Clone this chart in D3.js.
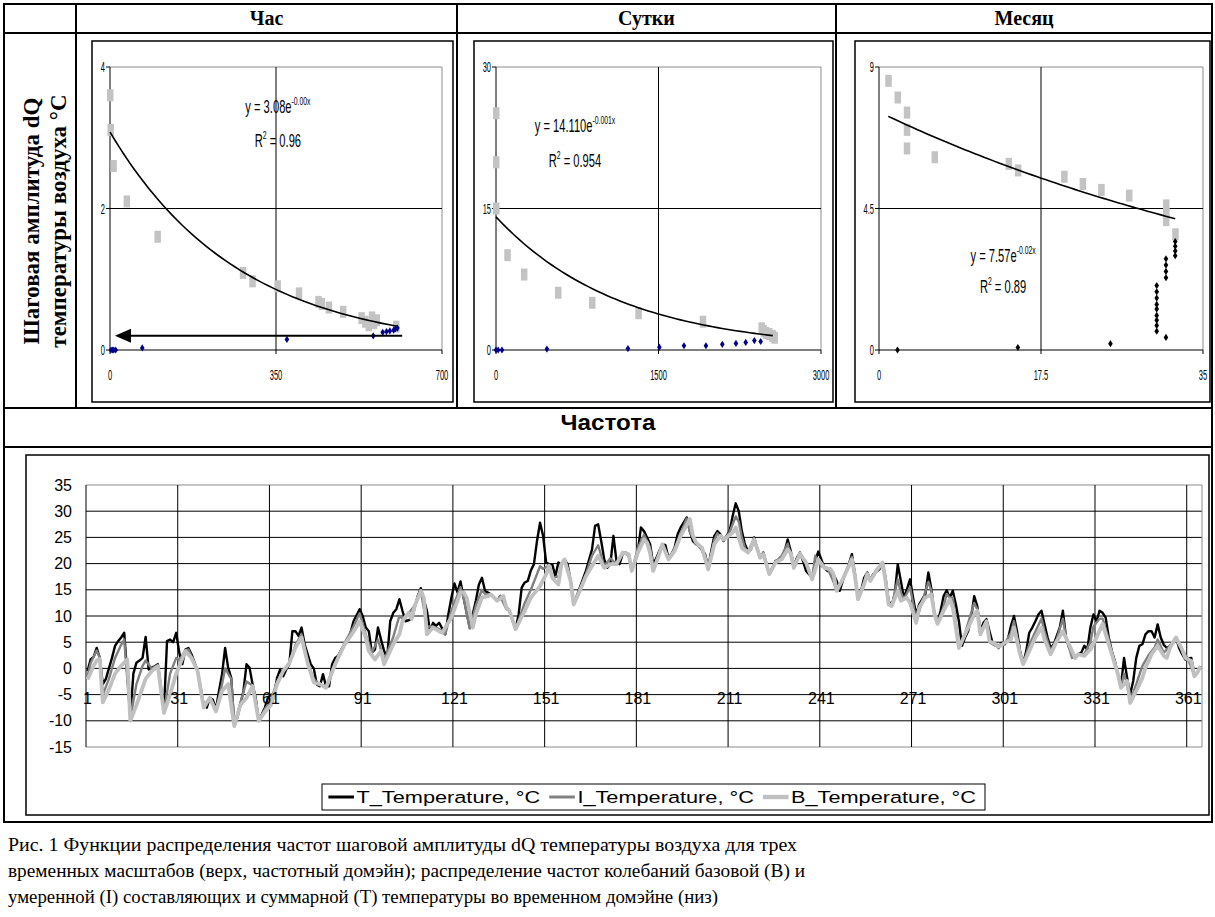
<!DOCTYPE html>
<html>
<head>
<meta charset="utf-8">
<script src="https://cdn.jsdelivr.net/npm/d3@7"></script>
<style>
  body { margin: 0; background: #fff; }
  svg { display: block; }
</style>
</head>
<body>
<svg id="chart"></svg>
<script>
const W = 1215, H = 917;

// ---- top row: frequency domain, three time scales ----
const columnTitles = ['Час', 'Сутки', 'Месяц'];
const yLabelLines  = ['Шаговая амплитуда  dQ', 'температуры воздуха °С'];

const hourGrayX = [0, 1, 7, 35, 100, 280, 300, 353, 398, 439, 446, 461, 491, 530, 538, 545, 552, 556, 562, 603];
const hourGrayY = [3.6, 3.11, 2.6, 2.1, 1.6, 1.09, 0.97, 0.9, 0.8, 0.68, 0.65, 0.6, 0.54, 0.45, 0.4, 0.35, 0.46, 0.38, 0.42, 0.33];
const hourDotX  = [2, 5, 8, 12, 68, 373, 555, 575, 583, 590, 598, 602, 606];
const hourDotY  = [0, 0, 0, 0, 0.03, 0.15, 0.2, 0.25, 0.26, 0.27, 0.28, 0.3, 0.31];

const dayGrayX = [0, 0, 0, 104, 258, 572, 886, 1314, 1908, 2450, 2470, 2490, 2520, 2550, 2570];
const dayGrayY = [25.1, 19.9, 15, 10.05, 8.0, 6.07, 5.0, 3.9, 3.0, 2.3, 2.0, 1.8, 1.7, 1.5, 1.3];
const dayDotX  = [0, 20, 55, 470, 1218, 1508, 1735, 1938, 2089, 2215, 2305, 2385, 2443];
const dayDotY  = [0, 0, 0, 0.1, 0.15, 0.3, 0.45, 0.45, 0.6, 0.7, 0.8, 1.0, 0.9];

const monthGrayX = [1, 2, 3, 3, 3, 6, 14, 15, 20, 22, 24, 27, 31, 31, 31, 32];
const monthGrayY = [8.56, 8.03, 7.55, 7.0, 6.41, 6.13, 5.92, 5.71, 5.51, 5.28, 5.09, 4.91, 4.6, 4.35, 4.13, 3.68];
const monthDotX  = [2, 15, 25, 30, 30, 30, 30, 30, 30, 30, 30, 30, 31, 31, 31, 31, 31, 32, 32, 32, 32];
const monthDotY  = [0, 0.08, 0.2, 2.05, 1.85, 1.65, 1.45, 1.3, 1.1, 0.95, 0.78, 0.6, 2.9, 2.7, 2.5, 2.3, 0.4, 3.45, 3.3, 3.15, 3.0];

// exponential trend lines y = a*exp(-b*x)
const hourFit  = { a: 3.08,  b: 0.00366,  from: 0, to: 607,  eq: ['y = 3.08e', '-0.00x'],    r2: '0.96' };
const dayFit   = { a: 14.11, b: 0.000872, from: 0, to: 2555, eq: ['y = 14.110e', '-0.001x'], r2: '0.954' };
const monthFit = { a: 7.57,  b: 0.0186,   from: 1, to: 32,   eq: ['y = 7.57e', '-0.02x'],    r2: '0.89' };

// ---- bottom row: time domain, [day, °C] ----
const tempT = [[1,-0.5],[2,1.7],[3,2.2],[4,3.9],[5,2],[6,-3],[7,-2],[8,0],[9,2],[10,4.3],[11,5.2],[12,5.9],[13,6.8],[15,-9],[16,-1],[17,1.1],[18,1.5],[19,2],[20,6],[21,-0.2],[22,0.2],[23,0.4],[24,0.8],[26,-8],[27,5.2],[28,5.5],[29,5],[30,6.8],[31,3],[32,0.8],[33,3.6],[34,3.9],[35,2.7],[37,-0.5],[39,-7],[40,-7.5],[41,-5.6],[42,-6],[43,-7.8],[44,-4.3],[45,-1.1],[46,3.9],[47,0.1],[48,-1.8],[49,-11],[50,-9.4],[52,-4.3],[53,0.8],[54,0.1],[55,-3.1],[56,-5.6],[57,-10],[59,-7.5],[60,-5.6],[61,-5],[62,-5],[63,-1.8],[64,-0.2],[65,-1.5],[66,-0.2],[67,0.8],[68,7.1],[69,7.1],[70,6.2],[71,7.8],[72,4.6],[74,0.8],[75,0],[76,-3.1],[77,-3.4],[78,-1.1],[79,-3.4],[80,-3.4],[81,0.8],[82,2],[83,2.4],[84,3.6],[86,5.2],[87,6.8],[88,9],[90,11.3],[91,10],[92,7.8],
  [93,7.1],[94,3],[95,3.6],[96,7.8],[97,5.5],[98,3.3],[99,2],[100,9],[101,10.6],[102,11.3],[103,13.2],[104,11],[105,9],[107,9.4],[108,11.6],[109,13.8],[110,15.3],[112,11],[113,7.1],[114,8.7],[115,8.1],[116,8.7],[118,6.5],[119,10.3],[120,13.5],[121,16.2],[122,14.5],[123,16.6],[124,13.5],[126,7.8],[128,12.9],[129,16],[130,17.3],[131,14.8],[133,14.1],[135,12.9],[136,13.8],[138,11.6],[139,11],[141,7.5],[142,10.3],[143,15.4],[144,16.4],[145,16.7],[146,18.7],[147,19.9],[148,24.3],[149,27.8],[150,25.3],[151,20.2],[152,19.9],[153,19.9],[154,17.6],[155,20.2],[156,19.9],[157,20.8],[158,19.9],[159,16.7],[160,12.5],[161,13.8],[162,15.4],[164,18.6],[166,22.7],[167,27.2],[168,27.5],[169,24.3],[170,20.8],[171,19.2],[172,19.9],[173,25.3],[174,20.5],[175,19.9],[176,21.8],[177,22.1],[178,21.5],[179,18.6],[181,22.4],[182,26.9],[183,26.2],[184,25],
  [185,23.7],[186,19.9],[187,21],[188,22.4],[189,23.7],[190,23.5],[191,21.1],[192,21.8],[193,23],[194,25.6],[195,26.9],[197,28.8],[198,26.2],[199,24.3],[200,23.7],[201,23.5],[203,21.8],[204,19.2],[205,22.4],[206,25.3],[207,26.2],[208,25.6],[209,24.3],[210,25.3],[211,26.2],[212,29.1],[213,31.5],[214,30],[215,26.2],[216,23.7],[217,22.4],[218,22.7],[219,25],[220,23],[221,21.1],[222,22.1],[224,18],[225,19.2],[226,20.5],[228,20.8],[229,22.4],[230,24.6],[231,22.4],[232,19.6],[233,21.1],[234,22.1],[235,20.5],[236,18.6],[238,17.3],[239,20.5],[240,22.3],[241,20.8],[242,19.2],[243,18.6],[244,19],[246,16.7],[247,14.8],[248,16.7],[249,18.3],[250,19.9],[251,21.8],[252,18],[253,13.2],[254,14.8],[255,17.3],[256,18.3],[257,17],[258,18],[260,18.9],[261,20.2],[262,17.3],[263,12.9],[264,11.9],[265,14.1],[266,19.9],[267,16.7],[268,13.5],[269,15.1],[270,17],[271,13.5],[272,10.3],[273,12.2],[274,13.2],[275,14.1],[276,18.3],
  [277,15.1],[278,10.3],[279,8.7],[280,11],[281,13.8],[282,14.9],[283,13.5],[284,14.8],[285,12.2],[286,9],[287,4.3],[288,5.9],[289,7.1],[290,9.7],[291,13.8],[292,11.9],[293,7.1],[294,8.7],[295,9.4],[296,7.1],[297,4.9],[298,4.6],[299,3.9],[300,4.9],[301,4.6],[302,5.5],[303,8.1],[304,10],[305,7.1],[306,3.3],[307,0.8],[308,3.3],[309,6.8],[310,7.8],[311,9],[312,10.3],[313,11],[314,8.4],[315,5.9],[316,3.9],[317,4.6],[318,6.2],[319,7.8],[320,11],[321,6],[322,4],[323,3],[324,2],[325,2.7],[326,3],[327,4.3],[328,3.6],[329,7.8],[330,10.3],[331,9],[332,11],[333,10.6],[334,9.7],[335,5.9],[336,3.3],[337,1.4],[338,-1.1],[339,-3.4],[340,2],[341,-1.8],[342,-5],[343,-2.4],[344,2],[345,4.3],[346,4.6],[347,6.5],[348,7.1],[349,7.1],[350,5.9],[351,8.4],[352,5.9],[353,4.5],[354,3.9],[355,4.3],[356,4.9],[357,5.9],[358,3.9],[359,2.7],[360,1.7],[362,2],[363,-1.1],[364,-0.8],[365,0.4]];

const tempI = [[1,-1.5],[2,1],[4,3.4],[5,2],[6,-5],[8,-2],[10,2],[12,4.5],[13,5.5],[15,-9.5],[17,-3],[19,0.5],[20,1.5],[22,0],[24,0.6],[26,-8.2],[28,-1],[30,2],[31,1.5],[33,3.5],[34,3.6],[36,1],[37,-0.5],[39,-7.2],[41,-5.6],[43,-8],[45,-3],[46,0],[48,-2],[49,-10.8],[51,-6.5],[53,-2.5],[55,-3.3],[57,-10],[59,-7.8],[61,-6],[63,-2.5],[65,-0.5],[67,0.8],[69,4.5],[71,6.5],[73,1],[75,-2],[77,-3.2],[79,-3.5],[82,1],[85,4.8],[88,8],[90,10.5],[92,6.5],
  [94,3],[96,5.5],[98,1.5],[101,6],[103,10],[104,9.5],[106,10.5],[108,12],[110,14.8],[112,8],[114,8],[116,7.5],[118,6.5],[120,11],[122,14],[123,15.5],[124,13.5],[126,7.6],[128,12],[130,15],[131,14.2],[133,14.1],[135,12.9],[136,13.8],[138,11.3],[139,11],[141,7.5],[144,12.5],[146,15],[148,18],[149,19.5],[150,19],[152,19.7],[153,17.4],[155,17.5],[156,19.9],[157,20.8],[159,16.7],[160,12.3],[162,15],[164,18],[166,21.5],[168,23.5],[170,19.5],[172,21],[174,19.9],[176,22.1],[178,21.6],[179,18.6],[181,23],[183,25.5],
  [185,23],[186,19],[188,22],[189,23.7],[191,21],[193,22.8],[195,25.8],[197,28.6],[198,26],[200,24],[202,22.5],[204,19],[206,24.5],[207,25.8],[209,24.4],[211,26],[213,29],[214,28],[215,25],[216,23],[217,22.2],[219,24.8],[221,21.1],[222,22],[224,18],[226,20.3],[228,21.5],[230,23.8],[232,19.4],[234,21.8],[236,20],[238,17.1],[239,21.5],[241,19.5],[243,19.2],[245,16.5],[246,14.8],[248,17],[251,21.3],[252,17.8],[253,13.2],[255,16.5],[256,18.2],[257,16.9],[259,18.8],[261,20.2],[262,16.9],[263,12.5],[264,11.9],[266,17],[267,14.5],[268,13.2],[270,15.5],[271,12.5],[272,9],[274,12.8],[276,16.5],
  [277,14.8],[278,10.3],[279,8.6],[281,11.8],[282,14.2],[283,13.5],[284,13.5],[286,4.1],[288,6.7],[291,12.5],[292,11.3],[293,6.8],[295,9],[296,5],[298,4.3],[300,4.6],[301,4.8],[303,6.8],[304,9],[306,3],[307,0.8],[309,4.5],[311,7],[313,9.5],[314,7],[316,3.3],[318,5.6],[320,9.5],[321,6],[323,2],[325,2.7],[327,2.7],[329,5],[330,8],[332,9.5],[333,9.5],[335,5.5],[336,3],[338,-1.1],[339,-3.6],[340,-1],[341,-3],[342,-6.2],[344,-3],[346,0.5],[348,2.5],[350,4],[351,5.5],[353,3],[355,4.3],[357,5.9],[359,3.6],[361,1.7],[363,-1.3],[364,-0.8],[365,0.4]];

const tempB = [[1,-2.1],[3,0.5],[4,1.5],[5,1.8],[6,-6.5],[8,-4],[10,-1],[12,0.5],[14,1.7],[15,-10],[17,-7],[20,-2],[22,-0.5],[24,0.4],[26,-8.5],[28,-5],[30,-1],[33,3.3],[35,2],[37,-0.5],[39,-7.5],[41,-5.6],[43,-8.2],[45,-4.3],[47,-3],[49,-11],[51,-7],[53,-5.6],[55,-3.4],[57,-10],[59,-8.3],[61,-7],[63,-3],[65,-0.5],[67,1],[69,4],[71,5.9],[73,1],[75,-2.7],[77,-3],[79,-3.7],[82,0.8],[85,4.5],[88,7],[90,9],[92,5.9],
  [93,3.3],[95,1.7],[97,3.3],[98,0.8],[101,4.6],[103,6.5],[104,9],[106,10.6],[107,9.4],[108,11.9],[110,14.8],[111,13.5],[112,6.5],[114,7.8],[116,7.1],[117,6.8],[120,9.7],[122,12.9],[123,14.5],[124,14.5],[125,13.5],[127,7.8],[128,10.3],[130,13.5],[132,13.8],[133,14.1],[135,12.9],[136,13.3],[137,13.8],[138,11.6],[139,11],[141,7.5],[144,11],[146,13.5],[149,15.7],[151,18],[152,19.6],[153,17.3],[155,16],[156,19.9],[157,20.8],[159,16.7],[160,12.2],[162,14.8],[164,17.6],[167,20.5],[168,21.5],[170,19.2],[172,19.9],[174,19.9],[176,22.1],[178,21.8],[179,18.6],[181,22.1],[183,24.6],
  [184,24],[185,22],[186,18.6],[188,21.8],[189,23.7],[191,20.8],[193,22.4],[195,25.3],[198,28.5],[199,25.3],[200,24],[202,23],[204,18.9],[206,23.7],[208,25.3],[209,24.6],[212,25.9],[213,26.9],[214,25],[215,23],[217,22.1],[218,23],[219,24.6],[221,21.1],[222,21.8],[224,18],[226,20.2],[228,20.8],[230,22.7],[231,22],[232,19.2],[234,21.9],[236,20.2],[238,17],[240,20.8],[242,19.2],[244,18.9],[245,18],[246,14.8],[248,17],[251,20.8],[252,17.6],[253,13.2],[255,16],[256,18],[257,16.7],[259,18.6],[261,20.2],[262,16.7],[263,12.2],[264,11.9],[266,14.8],[267,12.9],[269,13.5],[270,12.5],[272,8.7],[273,11.6],[275,13.5],[277,14.1],
  [278,10.3],[279,8.5],[281,11],[283,13.2],[284,11.6],[286,3.9],[288,6.5],[291,10.3],[292,11],[293,6.5],[295,9],[296,5.2],[298,4.6],[299,4.1],[301,4.9],[303,5.5],[304,7.8],[306,2.7],[307,0.8],[309,3.3],[311,5.9],[313,7.8],[314,5.5],[316,2.7],[318,5.2],[320,7.1],[322,4.6],[324,2],[325,2.7],[327,2.4],[329,3.6],[331,5.9],[333,8.5],[334,6.5],[336,2.7],[338,-1.1],[339,-3.7],[341,-2.4],[342,-6.6],[344,-4.3],[346,-1.8],[347,0.1],[349,2.7],[351,4.3],[353,2.4],[354,2],[355,3.9],[357,5.9],[359,3.6],[360,2],[362,1.4],[363,-1.5],[364,-0.8],[365,0.4]];

const dayCount   = 365;
const dayLabels  = [1, 31, 61, 91, 121, 151, 181, 211, 241, 271, 301, 331, 361];
const tempTicks  = [-15, -10, -5, 0, 5, 10, 15, 20, 25, 30, 35];
const seriesNames = ['T_Temperature, °C', 'I_Temperature, °C', 'B_Temperature, °C'];
const sectionTitle = 'Частота';
const captionLines = [
  'Рис. 1 Функции распределения частот шаговой амплитуды dQ температуры воздуха для трех',
  'временных масштабов (верх, частотный домэйн); распределение частот колебаний базовой (B) и',
  'умеренной (I) составляющих и суммарной (T) температуры во временном домэйне (низ)'
];
const captionWidths = [789, 797, 710];

const SERIF = "'Liberation Serif', 'Times New Roman', serif";
const SANS  = "'Liberation Sans', Arial, sans-serif";

const svg = d3.select('#chart').attr('width', W).attr('height', H);
svg.append('rect').attr('width', W).attr('height', H).attr('fill', '#fff');

// ---- table grid ----
const table = svg.append('g').attr('stroke', '#000').attr('stroke-width', 2);
const tableCols = [4, 76, 457, 836, 1212];
[4, 33, 408, 447, 822].forEach(y =>
  table.append('line').attr('x1', 3).attr('x2', 1213).attr('y1', y).attr('y2', y));
tableCols.forEach((x, i) => {
  const full = i === 0 || i === tableCols.length - 1;
  table.append('line').attr('x1', x).attr('x2', x).attr('y1', 4).attr('y2', full ? 822 : 408);
});

columnTitles.forEach((t, i) => {
  svg.append('text')
    .attr('x', (tableCols[i + 1] + tableCols[i + 2]) / 2).attr('y', 25)
    .attr('text-anchor', 'middle')
    .style('font', `bold 20px ${SERIF}`)
    .text(t);
});

const yLab = svg.append('g').attr('transform', 'translate(0,221) rotate(-90)');
yLabelLines.forEach((t, i) => {
  yLab.append('text')
    .attr('x', 0).attr('y', 39 + i * 27)
    .attr('text-anchor', 'middle')
    .style('font', `bold 23px ${SERIF}`)
    .text(t);
});

// ---- scatter panels ----
const panels = [
  { frame: [92, 41, 453, 402],  plot: [110, 67, 442, 350], xMax: 700,  yMax: 4,
    xTicks: [0, 350, 700],  yTicks: [0, 2, 4],    grayX: hourGrayX,  grayY: hourGrayY,
    dotX: hourDotX,  dotY: hourDotY,  dotColor: '#00008b', fit: hourFit,
    eqAt: [354, 3.35], r2At: [354, 2.87], arrow: [616, 10.5, 0.2] },
  { frame: [474, 41, 833, 402], plot: [496, 67, 821, 350], xMax: 3000, yMax: 30,
    xTicks: [0, 1500, 3000], yTicks: [0, 15, 30], grayX: dayGrayX,   grayY: dayGrayY,
    dotX: dayDotX,   dotY: dayDotY,   dotColor: '#00008b', fit: dayFit,
    eqAt: [729, 23.1], r2At: [729, 19.4] },
  { frame: [855, 41, 1210, 402], plot: [879, 67, 1203, 350], xMax: 35, yMax: 9,
    xTicks: [0, 17.5, 35], yTicks: [0, 4.5, 9], grayX: monthGrayX, grayY: monthGrayY,
    dotX: monthDotX, dotY: monthDotY, dotColor: '#000', fit: monthFit,
    eqAt: [13.4, 2.8], r2At: [13.4, 1.81] }
];

const diamond = 'M0,-3.6L2.3,0L0,3.6L-2.3,0Z';

panels.forEach(p => {
  const [l, t, r, b] = p.plot;
  const x = d3.scaleLinear().domain([0, p.xMax]).range([l, r]);
  const y = d3.scaleLinear().domain([0, p.yMax]).range([b, t]);
  const g = svg.append('g');

  g.append('rect')
    .attr('x', p.frame[0]).attr('y', p.frame[1])
    .attr('width', p.frame[2] - p.frame[0]).attr('height', p.frame[3] - p.frame[1])
    .attr('fill', '#fff').attr('stroke', '#000').attr('stroke-width', 1.5);

  // plot border and grid
  g.append('path').attr('d', `M${l},${t}H${r}V${b}`).attr('fill', 'none').attr('stroke', '#8c8c8c');
  g.append('line').attr('x1', x(p.xTicks[1])).attr('x2', x(p.xTicks[1])).attr('y1', t).attr('y2', b).attr('stroke', '#000');
  g.append('line').attr('x1', l).attr('x2', r).attr('y1', y(p.yTicks[1])).attr('y2', y(p.yTicks[1])).attr('stroke', '#000');
  g.append('path').attr('d', `M${l},${t}V${b}H${r}`).attr('fill', 'none').attr('stroke', '#000');

  p.yTicks.forEach(v => {
    g.append('line').attr('x1', l - 4).attr('x2', l).attr('y1', y(v)).attr('y2', y(v)).attr('stroke', '#000');
    g.append('g').attr('transform', `translate(${l - 5},${y(v)}) scale(0.5,1)`)
      .append('text').attr('text-anchor', 'end').attr('dy', '0.35em')
      .style('font', `15px ${SANS}`).text(v);
  });
  p.xTicks.forEach(v => {
    g.append('line').attr('x1', x(v)).attr('x2', x(v)).attr('y1', b).attr('y2', b + 4).attr('stroke', '#000');
    g.append('g').attr('transform', `translate(${x(v)},${b + 30}) scale(0.5,1)`)
      .append('text').attr('text-anchor', 'middle')
      .style('font', `15px ${SANS}`).text(v);
  });

  // gray markers (frequency of dQ)
  g.selectAll('.gray').data(d3.range(p.grayX.length)).join('rect')
    .attr('x', i => x(p.grayX[i]) - 3).attr('y', i => y(p.grayY[i]) - 6)
    .attr('width', 6.5).attr('height', 12).attr('fill', '#c3c3c3');

  // trend line
  const f = p.fit;
  const pts = d3.range(0, 61).map(k => {
    const xv = f.from + (f.to - f.from) * k / 60;
    return [xv, f.a * Math.exp(-f.b * xv)];
  });
  g.append('path').attr('d', d3.line().x(d => x(d[0])).y(d => y(d[1]))(pts))
    .attr('fill', 'none').attr('stroke', '#000').attr('stroke-width', 1.6);

  // diamonds
  g.selectAll('.dot').data(d3.range(p.dotX.length)).join('path')
    .attr('d', diamond)
    .attr('transform', i => `translate(${x(p.dotX[i])},${y(p.dotY[i])})`)
    .attr('fill', p.dotColor);

  // equation
  const eq = g.append('g').attr('transform', `translate(${x(p.eqAt[0])},${y(p.eqAt[1])}) scale(0.62,1)`)
    .append('text').attr('text-anchor', 'middle').style('font', `18px ${SANS}`);
  eq.append('tspan').text(f.eq[0]);
  eq.append('tspan').attr('dy', -8).style('font-size', '11px').text(f.eq[1]);

  const r2 = g.append('g').attr('transform', `translate(${x(p.r2At[0])},${y(p.r2At[1])}) scale(0.62,1)`)
    .append('text').attr('text-anchor', 'middle').style('font', `18px ${SANS}`);
  r2.append('tspan').text('R');
  r2.append('tspan').attr('dy', -8).style('font-size', '11px').text('2');
  r2.append('tspan').attr('dy', 8).text(` = ${f.r2}`);

  if (p.arrow) {
    const [x0, x1, yv] = p.arrow;
    g.append('line').attr('x1', x(x0)).attr('x2', x(x1) + 12).attr('y1', y(yv)).attr('y2', y(yv))
      .attr('stroke', '#000').attr('stroke-width', 2);
    g.append('path')
      .attr('d', `M${x(x1)},${y(yv)}l16,-7v14z`)
      .attr('fill', '#000');
  }
});

// ---- section title ----
svg.append('g').attr('transform', 'translate(608,430) scale(1.1,1)')
  .append('text').attr('text-anchor', 'middle')
  .style('font', `bold 22px ${SANS}`).text(sectionTitle);

// ---- time domain chart ----
svg.append('rect').attr('x', 26).attr('y', 455).attr('width', 1183).attr('height', 360)
  .attr('fill', '#fff').attr('stroke', '#000').attr('stroke-width', 1.5);

const px = d3.scaleLinear().domain([0, dayCount]).range([86, 1202]);
const py = d3.scaleLinear().domain([-15, 35]).range([747, 485]);
const chart = svg.append('g');

tempTicks.forEach(v => {
  chart.append('line').attr('x1', px(0)).attr('x2', px(dayCount)).attr('y1', py(v)).attr('y2', py(v))
    .attr('stroke', v === -15 || v === 35 ? '#8c8c8c' : '#000');
  chart.append('text').attr('x', 72).attr('y', py(v)).attr('dy', '0.35em')
    .attr('text-anchor', 'end').style('font', `16px ${SANS}`).text(v);
});
d3.range(30, dayCount, 30).forEach(d => {
  chart.append('line').attr('x1', px(d)).attr('x2', px(d)).attr('y1', py(35)).attr('y2', py(-15)).attr('stroke', '#000');
});
chart.append('line').attr('x1', px(dayCount)).attr('x2', px(dayCount)).attr('y1', py(35)).attr('y2', py(-15)).attr('stroke', '#8c8c8c');
chart.append('line').attr('x1', px(0)).attr('x2', px(0)).attr('y1', py(35)).attr('y2', py(-15)).attr('stroke', '#000');

const line = d3.line().x(d => px(d[0] - 0.5)).y(d => py(d[1]));
const styles = [
  { data: tempT, color: '#000',    width: 2.4 },
  { data: tempI, color: '#808080', width: 2.4 },
  { data: tempB, color: '#c0c0c0', width: 3.8 }
];
styles.forEach(s => {
  chart.append('path').attr('d', line(s.data)).attr('fill', 'none')
    .attr('stroke', s.color).attr('stroke-width', s.width).attr('stroke-linejoin', 'round');
});

dayLabels.forEach(d => {
  chart.append('text').attr('x', px(d - 0.5)).attr('y', py(-5) + 4).attr('dy', '0.35em')
    .attr('text-anchor', 'middle').style('font', `16px ${SANS}`).text(d);
});

// legend, stretched to the box width of the original
const legendLeft = 322, legendRight = 985;
const legend = svg.append('g');
const legInner = legend.append('g');
let lx = 5;
styles.forEach((s, i) => {
  legInner.append('line').attr('x1', lx).attr('x2', lx + 20).attr('y1', 13).attr('y2', 13)
    .attr('stroke', s.color).attr('stroke-width', s.width + 0.6);
  const tx = legInner.append('text').attr('x', lx + 22).attr('y', 13).attr('dy', '0.35em')
    .style('font', `17px ${SANS}`).text(seriesNames[i]);
  lx += 22 + tx.node().getComputedTextLength() + 7;
});
const sx = (legendRight - legendLeft) / lx;
legend.insert('rect', 'g').attr('x', legendLeft).attr('y', 784)
  .attr('width', legendRight - legendLeft).attr('height', 26)
  .attr('fill', '#fff').attr('stroke', '#000');
legInner.attr('transform', `translate(${legendLeft},784) scale(${sx},1)`);

// caption
captionLines.forEach((t, i) => {
  svg.append('text').attr('x', 8).attr('y', 851 + i * 26)
    .attr('textLength', captionWidths[i]).attr('lengthAdjust', 'spacingAndGlyphs')
    .style('font', `19.5px ${SERIF}`).text(t);
});
</script>
</body>
</html>
